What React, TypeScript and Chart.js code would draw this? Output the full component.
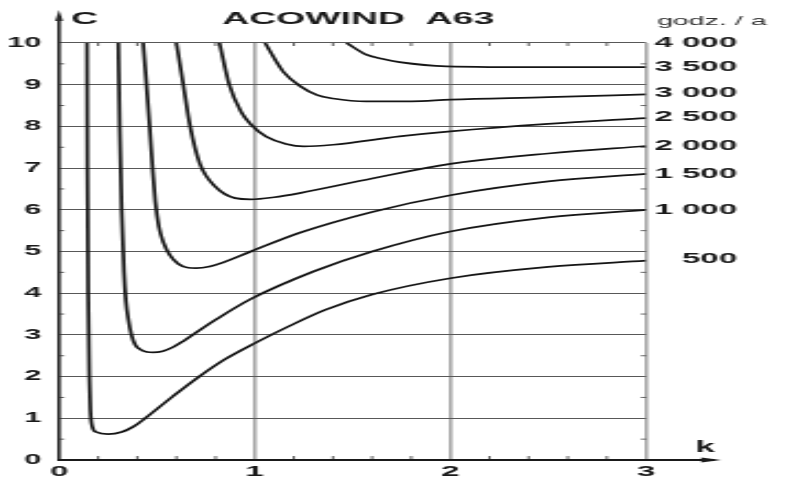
import React, { useEffect, useRef } from 'react';
import { Chart, registerables } from 'chart.js';

Chart.register(...registerables);

// The reference is a horizontally stretched scan: the chart is drawn on a narrow
// canvas and displayed stretched by STRETCH horizontally.
const STRETCH = 2.2;
const VIEW_W = 792;
const VIEW_H = 479;
const CANVAS_W = VIEW_W / STRETCH;
const FONT = "'Liberation Sans', Arial, Helvetica, sans-serif";

// ---- axis ticks ----
const X_TICKS = [0, 1, 2, 3];
const Y_TICKS = [0, 1, 2, 3, 4, 5, 6, 7, 8, 9, 10];
const X_MINOR = [0.2, 0.4, 0.6, 0.8, 1.2, 1.4, 1.6, 1.8, 2.2, 2.4, 2.6, 2.8];
const Y_MINOR = [0.5, 1.5, 2.5, 3.5, 4.5, 5.5, 6.5, 7.5, 8.5, 9.5];
const RIGHT_VALUES = [4.82, 6.0, 6.86, 7.53, 8.23, 8.8, 9.42, 10];
const RIGHT_LABELS = ['500', '1 000', '1 500', '2 000', '2 500', '3 000', '3 500', '4 000'];

// ---- curves (k, C) for annual hours ----
const K_500 = [0.143, 0.145, 0.149, 0.155, 0.16, 0.17, 0.19, 0.25, 0.32, 0.38, 0.44, 0.58, 0.71, 0.85, 1.0, 1.18, 1.36, 1.6, 2.0, 2.5, 3.0];
const C_500 = [10, 7, 4, 2, 1.2, 0.8, 0.67, 0.62, 0.67, 0.8, 1.0, 1.52, 1.98, 2.42, 2.8, 3.22, 3.6, 3.97, 4.36, 4.63, 4.78];

const K_1000 = [0.303, 0.31, 0.32, 0.332, 0.342, 0.355, 0.37, 0.39, 0.42, 0.45, 0.48, 0.53, 0.584, 0.635, 0.686, 0.806, 0.98, 1.3, 1.6, 2.0, 2.5, 3.0];
const C_1000 = [10, 8, 6, 4.5, 3.8, 3.35, 3.0, 2.76, 2.64, 2.59, 2.58, 2.61, 2.71, 2.85, 3.01, 3.38, 3.86, 4.52, 5.0, 5.48, 5.82, 6.0];

const K_1500 = [0.43, 0.447, 0.463, 0.478, 0.492, 0.51, 0.535, 0.565, 0.61, 0.66, 0.7, 0.77, 0.84, 0.98, 1.23, 1.6, 2.0, 2.5, 3.0];
const C_1500 = [10, 9, 8, 7, 6.2, 5.6, 5.2, 4.92, 4.7, 4.61, 4.6, 4.64, 4.74, 5.0, 5.45, 5.95, 6.35, 6.68, 6.86];

const K_2000 = [0.6, 0.635, 0.67, 0.72, 0.8, 0.9, 0.98, 1.1, 1.23, 1.6, 2.0, 2.5, 3.0];
const C_2000 = [10, 9, 8, 7.1, 6.55, 6.28, 6.25, 6.3, 6.4, 6.75, 7.1, 7.35, 7.53];

const K_2500 = [0.82, 0.87, 0.93, 0.98, 1.06, 1.16, 1.25, 1.4, 1.74, 2.0, 2.5, 3.0];
const C_2500 = [10, 9, 8.35, 8.05, 7.75, 7.58, 7.52, 7.56, 7.76, 7.88, 8.06, 8.2];

const K_3000 = [1.053, 1.146, 1.231, 1.32, 1.4, 1.57, 1.8, 2.0, 2.5, 3.0];
const C_3000 = [10, 9.31, 8.97, 8.75, 8.67, 8.6, 8.6, 8.64, 8.7, 8.77];

const K_3500 = [1.47, 1.57, 1.65, 1.74, 1.98, 2.5, 3.0];
const C_3500 = [10, 9.72, 9.62, 9.54, 9.44, 9.42, 9.42];

const SERIES = [
  { name: '500', k: K_500, c: C_500 },
  { name: '1000', k: K_1000, c: C_1000 },
  { name: '1500', k: K_1500, c: C_1500 },
  { name: '2000', k: K_2000, c: C_2000 },
  { name: '2500', k: K_2500, c: C_2500 },
  { name: '3000', k: K_3000, c: C_3000 },
  { name: '3500', k: K_3500, c: C_3500 },
];

const TITLE = 'ACOWIND  A63';
const Y_NAME = 'C';
const X_NAME = 'k';
const UNIT = 'godz. / a';

const decor = {
  id: 'decor',
  beforeDraw(chart: any) {
    const { ctx } = chart;
    ctx.save();
    ctx.fillStyle = '#ffffff';
    ctx.fillRect(0, 0, chart.width, chart.height);
    ctx.restore();
  },
  afterDraw(chart: any) {
    const { ctx, chartArea } = chart;
    const { left, right, top, bottom } = chartArea;
    const x = chart.scales.x;
    const y = chart.scales.y;
    ctx.save();
    const seg = (x1: number, y1: number, x2: number, y2: number) => {
      ctx.beginPath();
      ctx.moveTo(x1, y1);
      ctx.lineTo(x2, y2);
      ctx.stroke();
    };
    // minor ticks
    ctx.strokeStyle = '#333';
    ctx.lineWidth = 0.8;
    for (const v of X_MINOR) {
      const px = x.getPixelForValue(v);
      seg(px, bottom, px, bottom - 4);
      seg(px, top, px, top + 3);
    }
    for (const v of Y_MINOR) {
      const py = y.getPixelForValue(v);
      seg(left, py, left + 2.4, py);
      seg(right - 2.4, py, right, py);
    }
    // y axis arrow
    ctx.strokeStyle = '#2a2a2a';
    ctx.lineWidth = 1.6;
    seg(left, bottom, left, 16);
    ctx.fillStyle = '#2a2a2a';
    ctx.beginPath();
    ctx.moveTo(left, 10);
    ctx.lineTo(left - 1.8, 21);
    ctx.lineTo(left + 1.8, 21);
    ctx.closePath();
    ctx.fill();
    // x axis arrow
    const tipX = 721 / STRETCH;
    ctx.strokeStyle = '#1a1a1a';
    ctx.lineWidth = 2;
    seg(left - 0.8, bottom, tipX - 3, bottom);
    ctx.fillStyle = '#1a1a1a';
    ctx.beginPath();
    ctx.moveTo(tipX, bottom);
    ctx.lineTo(tipX - 9, bottom - 2.6);
    ctx.lineTo(tipX - 9, bottom + 2.6);
    ctx.closePath();
    ctx.fill();
    // texts
    ctx.fillStyle = '#1a1a1a';
    ctx.textBaseline = 'alphabetic';
    ctx.textAlign = 'left';
    ctx.font = `bold 17px ${FONT}`;
    ctx.fillText(TITLE, 222 / STRETCH, 24);
    ctx.fillText(Y_NAME, 71 / STRETCH, 24);
    ctx.font = `bold 16px ${FONT}`;
    ctx.fillText(X_NAME, 695 / STRETCH, 452);
    ctx.fillStyle = '#333';
    ctx.font = `13px ${FONT}`;
    ctx.fillText(UNIT, 657 / STRETCH, 25);
    ctx.restore();
  },
};

const RIGHT_LABEL_EDGE = 737 / STRETCH;
const PLOT_RIGHT = 646 / STRETCH;

export default function App() {
  const ref = useRef<HTMLCanvasElement | null>(null);

  useEffect(() => {
    document.body.style.margin = '0';
    document.body.style.overflow = 'hidden';
    const canvas = ref.current;
    if (!canvas) return;
    const chart = new Chart(canvas, {
      type: 'scatter',
      data: {
        datasets: SERIES.map((s) => ({
          label: s.name,
          data: s.k.map((kv, i) => ({ x: kv, y: s.c[i] })),
          showLine: true,
          borderColor: '#151515',
          borderWidth: 1.7,
          pointRadius: 0,
          pointHoverRadius: 0,
          fill: false,
          cubicInterpolationMode: 'monotone' as const,
        })),
      },
      options: {
        animation: false,
        responsive: false,
        events: [],
        layout: { padding: { top: 43, left: 0, right: CANVAS_W - RIGHT_LABEL_EDGE, bottom: 0 } },
        plugins: {
          legend: { display: false },
          tooltip: { enabled: false },
          title: { display: false },
        },
        scales: {
          x: {
            type: 'linear',
            position: 'bottom',
            min: 0,
            max: 3,
            afterBuildTicks: (s: any) => {
              s.ticks = X_TICKS.map((v) => ({ value: v }));
            },
            afterFit: (s: any) => {
              s.height = VIEW_H - 460;
            },
            ticks: {
              autoSkip: false,
              maxRotation: 0,
              padding: 3,
              color: '#1a1a1a',
              font: { family: FONT, size: 15, weight: 'bold' },
            },
            grid: {
              drawTicks: false,
              color: (c: any) => (c.tick && c.tick.value > 0 ? '#a6a6a6' : 'rgba(0,0,0,0)'),
              lineWidth: 1.6,
            },
            border: { display: false },
          },
          y: {
            type: 'linear',
            position: 'left',
            min: 0,
            max: 10,
            afterBuildTicks: (s: any) => {
              s.ticks = Y_TICKS.map((v) => ({ value: v }));
            },
            afterFit: (s: any) => {
              s.width = 59 / STRETCH;
            },
            ticks: {
              autoSkip: false,
              padding: 8,
              color: '#1a1a1a',
              font: { family: FONT, size: 14, weight: 'bold' },
            },
            grid: { drawTicks: false, color: '#585858', lineWidth: 1.1 },
            border: { display: false },
          },
          y2: {
            type: 'linear',
            position: 'right',
            min: 0,
            max: 10,
            afterBuildTicks: (s: any) => {
              s.ticks = RIGHT_VALUES.map((v) => ({ value: v }));
            },
            afterFit: (s: any) => {
              s.width = RIGHT_LABEL_EDGE - PLOT_RIGHT;
            },
            ticks: {
              autoSkip: false,
              padding: 4,
              crossAlign: 'far',
              color: '#1a1a1a',
              font: { family: FONT, size: 15, weight: 'bold' },
              callback: (_v: any, i: number) => RIGHT_LABELS[i],
            },
            grid: { display: false, drawOnChartArea: false, drawTicks: false, tickLength: 0 },
            border: { display: false },
          },
        },
      },
      plugins: [decor],
    } as any);
    return () => chart.destroy();
  }, []);

  return (
    <div style={{ position: 'absolute', left: 0, top: 0, width: VIEW_W, height: VIEW_H, overflow: 'hidden' }}>
      <canvas
        ref={ref}
        width={Math.round(CANVAS_W)}
        height={VIEW_H}
        style={{ display: 'block', width: `${VIEW_W}px`, height: `${VIEW_H}px` }}
      />
    </div>
  );
}
